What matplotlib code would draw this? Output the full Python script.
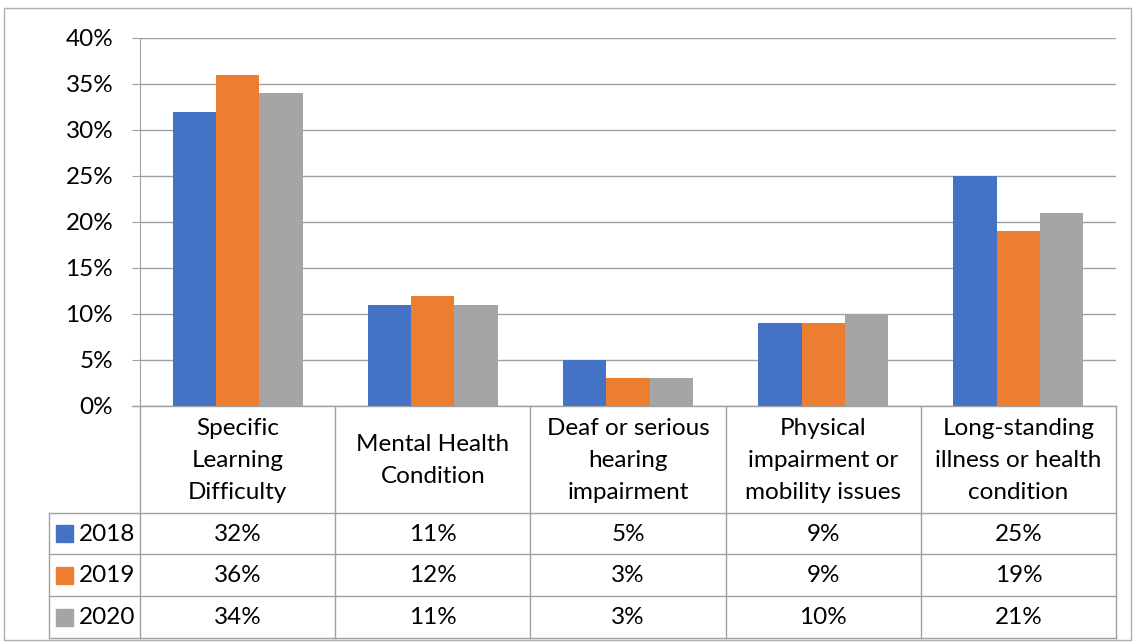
import matplotlib
matplotlib.use('Agg')
import matplotlib.pyplot as plt
import numpy as np
from matplotlib.patches import Rectangle

plt.rcParams['font.family'] = ['Lato', 'DejaVu Sans']

# data
categories = ['Specific\nLearning\nDifficulty', 'Mental Health\nCondition',
              'Deaf or serious\nhearing\nimpairment', 'Physical\nimpairment or\nmobility issues',
              'Long-standing\nillness or health\ncondition']
years = ['2018', '2019', '2020']
v2018 = [32, 11, 5, 9, 25]
v2019 = [36, 12, 3, 9, 19]
v2020 = [34, 11, 3, 10, 21]
colors = ['#4472C4', '#ED7D31', '#A5A5A5']

W, H = 1136, 642
fs = 17.5
fig = plt.figure(figsize=(W / 100, H / 100), dpi=100)

# pixel layout
x0, x1 = 140, 1116
y_top, y_zero = 38, 406
rows = [406, 513, 554, 596, 638]
leg_x = 49

ax = fig.add_axes([x0 / W, 1 - y_zero / H, (x1 - x0) / W, (y_zero - y_top) / H])
n = len(categories)
x = np.arange(n)
bw = 1 / 4.5
for i, (vals, c) in enumerate(zip([v2018, v2019, v2020], colors)):
    ax.bar(x + (i - 1) * bw, vals, width=bw, color=c, zorder=3)
ax.set_xlim(-0.5, n - 0.5)
ax.set_ylim(0, 40)
ax.set_yticks(range(0, 41, 5))
ax.set_yticklabels([f'{t}%' for t in range(0, 41, 5)], fontsize=fs)
ax.tick_params(axis='y', length=5.8, color='#A0A0A0', pad=13.5)
ax.set_xticks([])
ax.grid(axis='y', color='#A0A0A0', linewidth=1, zorder=0)
for s in ['top', 'right', 'bottom']:
    ax.spines[s].set_visible(False)
ax.spines['left'].set_color('#A0A0A0')

# overlay for data table and border
ov = fig.add_axes([0, 0, 1, 1], facecolor='none')
ov.set_xlim(0, W)
ov.set_ylim(H, 0)
ov.axis('off')
lc = '#A0A0A0'
ov.add_patch(Rectangle((4, 8), W - 9, H - 10, fill=False, edgecolor='#B0B0B0', lw=1))
ov.plot([132, x1], [y_zero, y_zero], color=lc, lw=1)
cw = (x1 - x0) / n
for k in range(n + 1):
    ov.plot([x0 + k * cw] * 2, [rows[0], rows[-1]], color=lc, lw=1)
for r in rows[1:]:
    ov.plot([leg_x, x1], [r, r], color=lc, lw=1)
ov.plot([leg_x, leg_x], [rows[1], rows[-1]], color=lc, lw=1)

for k, cat in enumerate(categories):
    ov.text(x0 + (k + 0.5) * cw, (rows[0] + rows[1]) / 2 + 1, cat, ha='center', va='center',
            fontsize=fs, linespacing=1.65)

for j, (yr, vals, c) in enumerate(zip(years, [v2018, v2019, v2020], colors)):
    ymid = (rows[j + 1] + rows[j + 2]) / 2
    ov.add_patch(Rectangle((56, ymid - 8.5), 17, 17, color=c))
    ov.text(79, ymid + 1, yr, ha='left', va='center', fontsize=fs)
    for k, v in enumerate(vals):
        ov.text(x0 + (k + 0.5) * cw, ymid + 1, f'{v}%', ha='center', va='center', fontsize=fs)

fig.savefig('out.png', dpi=100)
